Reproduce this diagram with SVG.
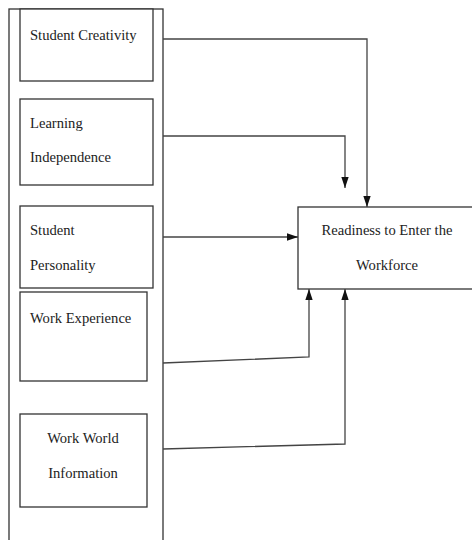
<svg xmlns="http://www.w3.org/2000/svg" width="472" height="540" viewBox="0 0 472 540">
<style>
.box{fill:#fff;stroke:#333;stroke-width:1.3}
.t{font-family:"Liberation Serif","Times New Roman",serif;font-size:14.6px;fill:#222}
.c{text-anchor:middle}
.ln{fill:none;stroke:#444;stroke-width:1.3}
</style>
<defs>
<marker id="ah" viewBox="0 0 12 8" refX="12" refY="4" markerWidth="11" markerHeight="8" markerUnits="userSpaceOnUse" orient="auto">
<path d="M0,0 L12,4 L0,8 z" fill="#111"/>
</marker>
</defs>
<rect fill="#fff" width="472" height="540"/>
<g id="container"><rect class="box" x="9" y="9" width="154" height="540"/></g>
<g id="n1"><rect class="box" x="20" y="9" width="133" height="72"/><text class="t" x="30" y="40">Student Creativity</text></g>
<g id="n2"><rect class="box" x="20" y="99" width="133" height="86"/><text class="t" x="30" y="128">Learning</text><text class="t" x="30" y="162">Independence</text></g>
<g id="n3"><rect class="box" x="20" y="206" width="133" height="82"/><text class="t" x="30" y="235">Student</text><text class="t" x="30" y="270">Personality</text></g>
<g id="n4"><rect class="box" x="20" y="292" width="127" height="89"/><text class="t" x="30" y="323">Work Experience</text></g>
<g id="n5"><rect class="box" x="20" y="414" width="127" height="93"/><text class="t c" x="83" y="443">Work World</text><text class="t c" x="83" y="478">Information</text></g>
<g id="target"><rect class="box" x="298" y="207" width="180" height="82"/><text class="t c" x="387" y="235">Readiness to Enter the</text><text class="t c" x="387" y="270">Workforce</text></g>
<g id="connectors">
<polyline class="ln" points="163,39 367,39 367,207" marker-end="url(#ah)"/>
<polyline class="ln" points="163,136 345,136 345,188" marker-end="url(#ah)"/>
<polyline class="ln" points="163,237 298,237" marker-end="url(#ah)"/>
<polyline class="ln" points="163,363 309,357 309,289" marker-end="url(#ah)"/>
<polyline class="ln" points="163,449 345,444 345,289" marker-end="url(#ah)"/>
</g>
</svg>
